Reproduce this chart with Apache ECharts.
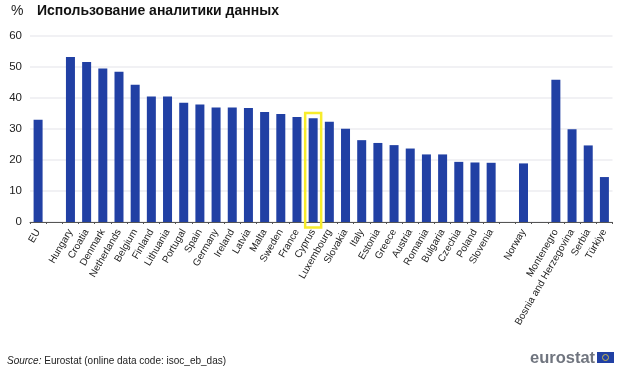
<!DOCTYPE html>
<html>
<head>
<meta charset="utf-8">
<style>
  html, body { margin: 0; padding: 0; background: #fff; }
  #chart { width: 624px; height: 369px; }
</style>
<script src="https://cdn.jsdelivr.net/npm/echarts@6/dist/echarts.min.js"></script>
</head>
<body>
<div id="chart"></div>
<script>
// empty strings are the gaps between the country groups
const countries = ['EU', '', 'Hungary', 'Croatia', 'Denmark', 'Netherlands', 'Belgium', 'Finland', 'Lithuania',
  'Portugal', 'Spain', 'Germany', 'Ireland', 'Latvia', 'Malta', 'Sweden', 'France', 'Cyprus', 'Luxembourg',
  'Slovakia', 'Italy', 'Estonia', 'Greece', 'Austria', 'Romania', 'Bulgaria', 'Czechia', 'Poland', 'Slovenia',
  '', 'Norway', '', 'Montenegro', 'Bosnia and Herzegovina', 'Serbia', 'Türkiye'];
const values = [33, null, 53.2, 51.6, 49.5, 48.5, 44.3, 40.5, 40.5,
  38.5, 37.9, 36.9, 36.9, 36.8, 35.5, 34.8, 33.9, 33.5, 32.3,
  30.1, 26.4, 25.5, 24.8, 23.7, 21.8, 21.8, 19.4, 19.2, 19.1,
  null, 18.9, null, 45.9, 29.9, 24.7, 14.5];
const yTicks = [0, 10, 20, 30, 40, 50, 60];
const highlighted = ['Cyprus'];
const highlightTop = 35.2;

const font = '"Liberation Sans", Arial, sans-serif';
const chart = echarts.init(document.getElementById('chart'));

chart.setOption({
  animation: false,
  backgroundColor: '#fff',
  grid: { left: 30, right: 11.5, top: 36, height: 186, containLabel: false },
  xAxis: {
    type: 'category',
    data: countries,
    axisLine: { lineStyle: { color: '#555', width: 1 } },
    axisTick: { show: true, length: 2, alignWithLabel: false, lineStyle: { color: '#555' } },
    axisLabel: { interval: 0, rotate: 60, margin: 8, fontFamily: font, fontSize: 10, color: '#222' }
  },
  yAxis: {
    type: 'value',
    min: yTicks[0],
    max: yTicks[yTicks.length - 1],
    interval: 10,
    axisLine: { show: false },
    axisTick: { show: false },
    axisLabel: { margin: 8, fontFamily: font, fontSize: 11.5, color: '#222' },
    splitLine: { lineStyle: { color: '#ecedf1', width: 1.5 } }
  },
  series: [
    {
      type: 'bar',
      data: values,
      barWidth: 9,
      itemStyle: { color: '#2140a4' }
    },
    {
      // yellow frame around the highlighted country
      type: 'custom',
      clip: false,
      silent: true,
      z: 5,
      data: highlighted.map(c => [c, highlightTop]),
      renderItem: (params, api) => {
        const top = api.coord([api.value(0), api.value(1)]);
        const base = api.coord([api.value(0), 0]);
        return {
          type: 'rect',
          shape: { x: top[0] - 8, y: top[1], width: 16, height: base[1] - top[1] + 5.5 },
          style: { fill: 'none', stroke: '#f7ec2c', lineWidth: 2.5 }
        };
      }
    }
  ],
  graphic: [
    { type: 'text', left: 11, top: 4, style: { text: '%', font: '14px ' + font, fill: '#222' } },
    { type: 'text', left: 37, top: 4, style: { text: 'Использование аналитики данных', font: 'bold 14px ' + font, fill: '#111' } },
    {
      type: 'text', left: 7, top: 356,
      style: {
        text: '{i|Source:} Eurostat (online data code: isoc_eb_das)',
        font: '10px ' + font, fill: '#222',
        rich: { i: { font: 'italic 10px ' + font, fill: '#222' } }
      }
    },
    { type: 'text', left: 530, top: 350, style: { text: 'eurostat', font: 'bold 16.5px ' + font, fill: '#70757f' } },
    { type: 'rect', shape: { x: 597, y: 352, width: 17, height: 11 }, style: { fill: '#2140a4' } },
    { type: 'circle', shape: { cx: 605.5, cy: 357.5, r: 3 }, style: { fill: 'none', stroke: '#c9b94a', lineWidth: 1 } }
  ]
});
</script>
</body>
</html>
